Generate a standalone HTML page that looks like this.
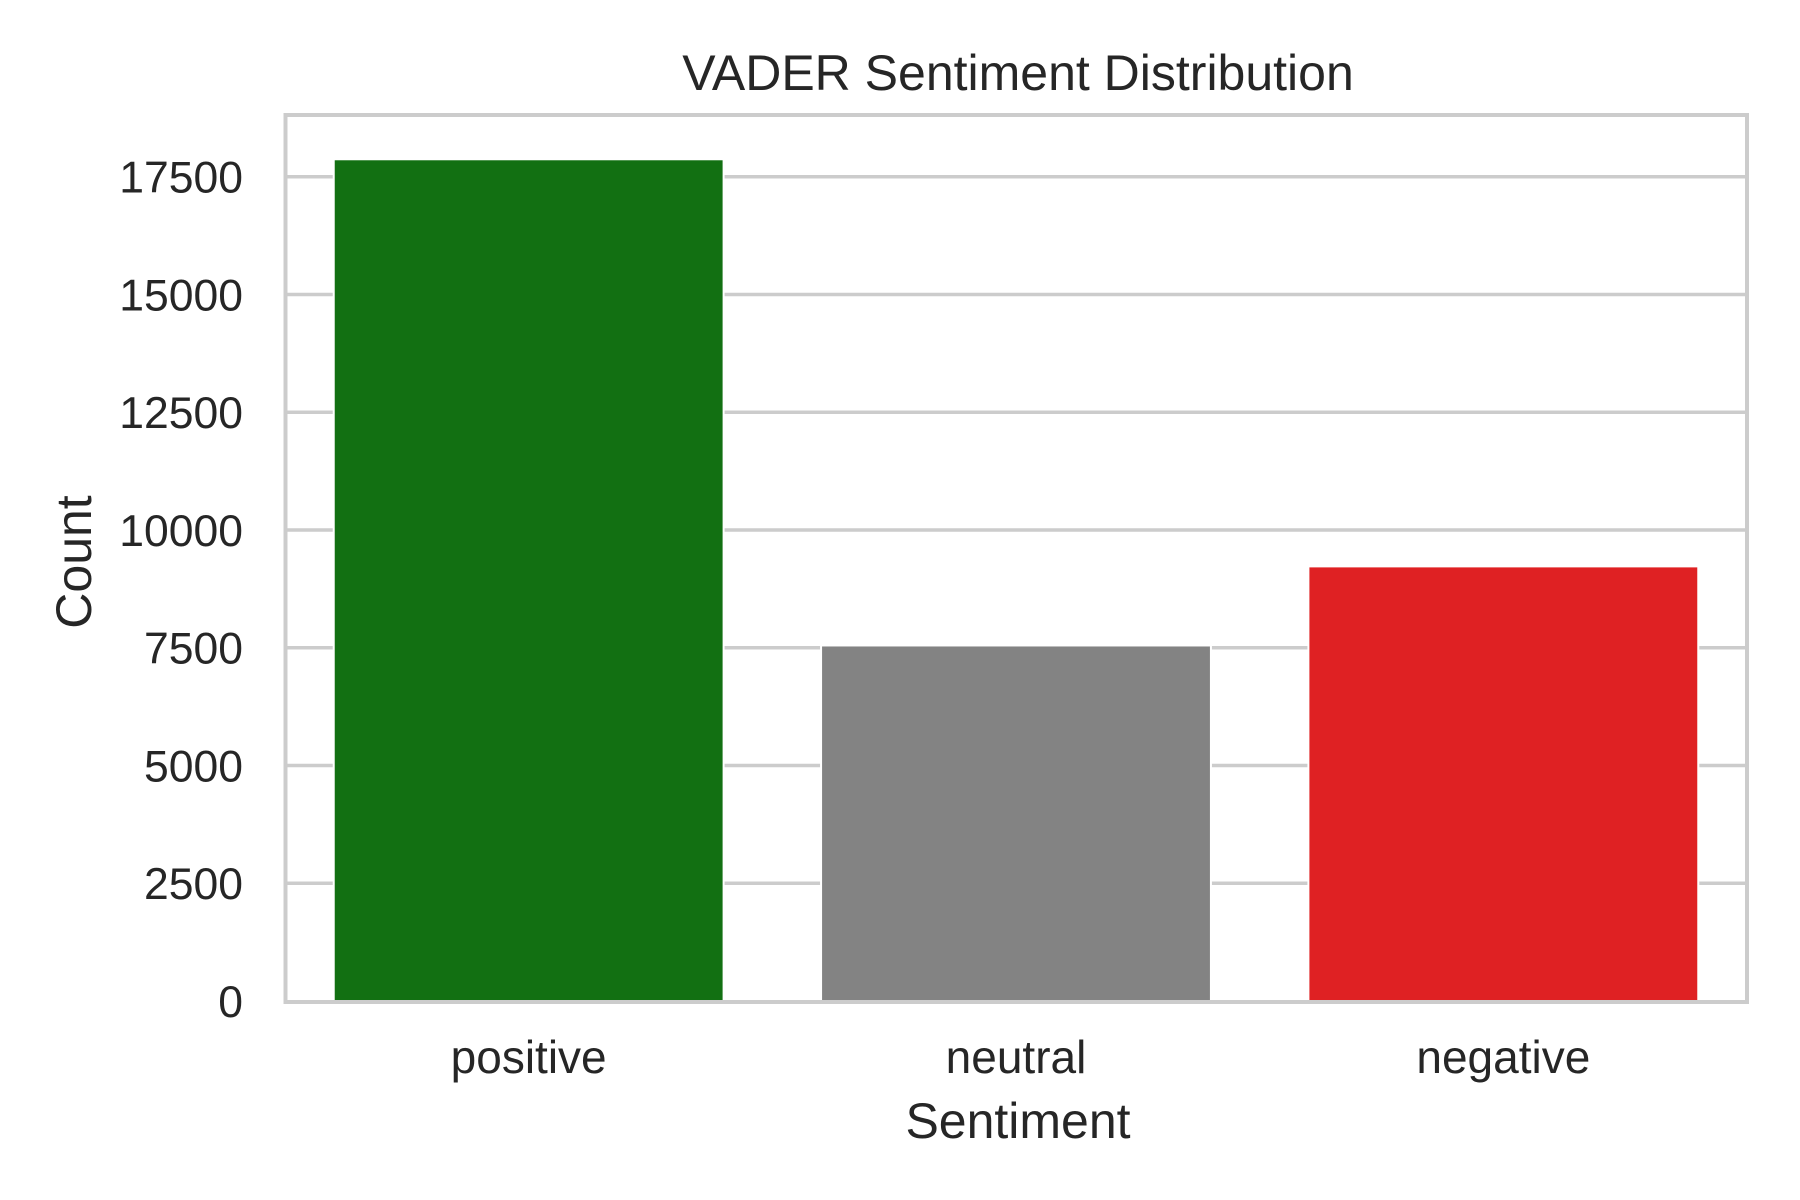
<!DOCTYPE html>
<html><head><meta charset="utf-8"><style>
html,body{margin:0;padding:0;background:#fff;}
svg{display:block;font-family:"Liberation Sans",Arial,sans-serif;}
</style></head><body>
<svg id="chart" width="1800" height="1200" viewBox="0 0 1800 1200">
<text x="1018" y="90" text-anchor="middle" font-size="50" fill="#262626">VADER Sentiment Distribution</text>
<g id="grid"></g>
<g id="bars"></g>
<g id="yticks"></g>
<g id="xticks"></g>
<rect x="285.5" y="115" width="1461.5" height="887" fill="none" stroke="#cccccc" stroke-width="4"/>
<text x="1018" y="1138" text-anchor="middle" font-size="50" fill="#262626">Sentiment</text>
<text transform="translate(91,562) rotate(-90)" text-anchor="middle" font-size="50" fill="#262626">Count</text>
</svg>
<script>
const categories = ["positive","neutral","negative"];
const counts = [17870, 7548, 9227];
const barColors = ["#127012","#838383","#df2123"];
const yTickValues = [0,2500,5000,7500,10000,12500,15000,17500];
const yTickLabels = ["0","2500","5000","7500","10000","12500","15000","17500"];

const NS="http://www.w3.org/2000/svg";
const X0=285, X1=1747, Y0=1001, YMAX_PX=176.7, YMAXV=17500;
function y(v){return Y0-(Y0-YMAX_PX)*v/YMAXV;}
const step=(X1-X0)/categories.length;
function xc(i){return X0+step*(i+0.5);}
const grid=document.getElementById('grid'), bars=document.getElementById('bars'),
 yt=document.getElementById('yticks'), xt=document.getElementById('xticks');
yTickValues.forEach((v,i)=>{
  if(v>0){
    const l=document.createElementNS(NS,'line');
    l.setAttribute('x1',X0);l.setAttribute('x2',X1);
    l.setAttribute('y1',y(v));l.setAttribute('y2',y(v));
    l.setAttribute('stroke','#cccccc');l.setAttribute('stroke-width','3.5');
    
    
    grid.appendChild(l);
  }
  const t=document.createElementNS(NS,'text');
  t.setAttribute('x',243);t.setAttribute('y',y(v)+16);
  t.setAttribute('text-anchor','end');t.setAttribute('font-size','44.5');t.setAttribute('fill','#262626');
  t.textContent=yTickLabels[i];
  
  
  yt.appendChild(t);
});
categories.forEach((c,i)=>{
  const w=step*0.8;
  const r=document.createElementNS(NS,'rect');
  r.setAttribute('x',xc(i)-w/2);r.setAttribute('width',w);
  r.setAttribute('y',y(counts[i]));r.setAttribute('height',Y0-y(counts[i]));
  r.setAttribute('fill',barColors[i]);r.setAttribute('stroke','#fff');r.setAttribute('stroke-width','2');
  
  
  bars.appendChild(r);
  const t=document.createElementNS(NS,'text');
  t.setAttribute('x',xc(i));t.setAttribute('y',1073);
  t.setAttribute('text-anchor','middle');t.setAttribute('font-size','46');t.setAttribute('fill','#262626');
  t.textContent=c;
  
  
  xt.appendChild(t);
});
</script>
</body></html>
